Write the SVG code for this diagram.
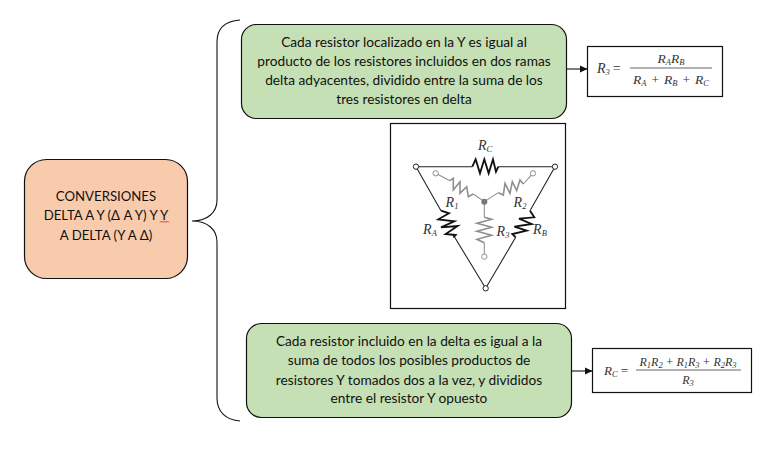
<svg xmlns="http://www.w3.org/2000/svg" width="769" height="457" viewBox="0 0 769 457">
<style>
text{font-family:"Lato","Liberation Sans",sans-serif;font-size:13.7px;fill:#111;text-anchor:middle}
.root{font-size:13.2px}
.box{stroke:#111;stroke-width:1.2}
.green{fill:#c5e0b4}
.frame{fill:#fff;stroke:#111;stroke-width:1.2}
.conn{fill:none;stroke:#111;stroke-width:1.1}
.f{font-family:"Liberation Serif",serif;font-style:italic;font-size:14px;fill:#333}
.s{font-family:"Liberation Serif",serif;font-style:italic;font-size:8.5px;fill:#333;text-anchor:start}
.n{font-family:"Liberation Serif",serif;font-style:normal;fill:#333}
.d{fill:none;stroke:#222;stroke-width:3.2}
.dh{fill:none;stroke:#111;stroke-width:5.5;stroke-linejoin:miter}
.y{fill:none;stroke:#8f8f8f;stroke-width:3.2}
.yh{fill:none;stroke:#8f8f8f;stroke-width:4.8}
.t{fill:#fff;stroke:#222;stroke-width:3}
.ty{fill:#fff;stroke:#8f8f8f;stroke-width:3}
.bar{stroke:#666;stroke-width:1}
</style>
<defs><marker id="ah" markerWidth="8" markerHeight="8" refX="7" refY="4" orient="auto" markerUnits="userSpaceOnUse"><path d="M0,0.5 L7.5,4 L0,7.5 Z" fill="#111"/></marker></defs>
<g id="connectors">
<path class="conn" d="M240,20 C226,21 217,28 217,42 L217,200 C217,212 208,221 192,221 C208,221 217,230 217,242 L217,398 C217,412 226,420 240,421"/>
<path class="conn" d="M566,69 L587,69" marker-end="url(#ah)"/>
<path class="conn" d="M571,371 L592,371" marker-end="url(#ah)"/>
</g>
<g id="node-root">
<rect class="box" x="24.500" y="159.500" width="163" height="119" rx="22" fill="#f8cbad"/>
<text class="root" x="106" y="200.500">CONVERSIONES</text>
<text class="root" x="106" y="220">DELTA A Y (Δ A Y) Y Y</text>
<text class="root" x="106" y="240">A DELTA (Y A Δ)</text>
<path d="M160,222.500 l1.500,-1.500 l1.500,1.500 l1.500,-1.500 l1.500,1.500 l1.500,-1.500 l1.500,1.500" fill="none" stroke="#e02020" stroke-width="0.900"/>
</g>
<g id="node-top-text">
<rect class="box green" x="241.500" y="24.500" width="325" height="94" rx="15"/>
<text x="404" y="47">Cada resistor localizado en la Y es igual al</text>
<text x="404" y="66">producto de los resistores incluidos en dos ramas</text>
<text x="404" y="85">delta adyacentes, dividido entre la suma de los</text>
<text x="404" y="104">tres resistores en delta</text>
</g>
<g id="node-top-formula">
<rect class="frame" x="587.500" y="46.500" width="135" height="50"/>
<text class="f" x="597" y="73" style="text-anchor:start;font-size:14px">R<tspan class="s" dy="2">3</tspan><tspan class="n" dy="-2" dx="3">=</tspan></text>
<text class="f" x="671" y="63" style="font-size:13.500px">R<tspan class="s" dy="2">A</tspan><tspan dy="-2">R</tspan><tspan class="s" dy="2">B</tspan></text>
<line class="bar" x1="630" y1="68" x2="712" y2="68"/>
<text class="f" x="671" y="84" style="font-size:13.500px">R<tspan class="s" dy="2">A</tspan><tspan class="n" dy="-2" dx="5">+</tspan><tspan dx="5">R</tspan><tspan class="s" dy="2">B</tspan><tspan class="n" dy="-2" dx="5">+</tspan><tspan dx="5">R</tspan><tspan class="s" dy="2">C</tspan></text>
</g>
<g id="node-circuit">
<rect class="frame" x="390.500" y="123.500" width="175" height="185"/>
<g transform="translate(385 120) scale(0.3333)">
<path class="d" d="M93,140 H262 M340,140 H510 M93,140 L168,272 M205,345 L302,505 M510,140 L435,272 M392,352 L302,505"/>
<path class="dh" d="M262,140 L272,118 L285,160 L298,118 L311,160 L324,118 L333,155 L340,140"/>
<path class="dh" d="M168,272 L192,280 L160,298 L208,304 L168,322 L218,318 L182,342 L212,345 L205,352"/>
<path class="dh" d="M435,272 L448,292 L402,296 L440,312 L388,320 L425,332 L382,342 L392,352"/>
<path class="y" d="M152,160 L195,182 M265,222 L298,245 L340,218 M415,192 L444,160 M298,245 V292 M298,368 V410"/>
<path class="yh" d="M195,182 L205,175 L205,210 L225,185 L225,220 L245,200 L250,230 L265,222"/>
<path class="yh" d="M340,218 L355,225 L360,190 L375,220 L382,185 L395,212 L405,180 L415,192"/>
<path class="yh" d="M298,292 L320,298 L276,310 L320,322 L276,334 L320,346 L276,358 L298,368"/>
<circle class="t" cx="93" cy="140" r="8"/>
<circle class="t" cx="510" cy="140" r="8"/>
<circle class="t" cx="302" cy="505" r="8"/>
<circle class="ty" cx="152" cy="160" r="8"/>
<circle class="ty" cx="444" cy="160" r="8"/>
<circle class="ty" cx="298" cy="410" r="8"/>
<circle cx="298" cy="245" r="9" fill="#777"/>
</g>
<text class="f" x="485" y="150">R<tspan class="s" dy="2">C</tspan></text>
<text class="f" x="452" y="207">R<tspan class="s" dy="2">1</tspan></text>
<text class="f" x="520" y="207">R<tspan class="s" dy="2">2</tspan></text>
<text class="f" x="503" y="236">R<tspan class="s" dy="2">3</tspan></text>
<text class="f" x="430" y="234">R<tspan class="s" dy="2">A</tspan></text>
<text class="f" x="540" y="234">R<tspan class="s" dy="2">B</tspan></text>
</g>
<g id="node-bottom-text">
<rect class="box green" x="246.500" y="323.500" width="325" height="94" rx="15"/>
<text x="409" y="346">Cada resistor incluido en la delta es igual a la</text>
<text x="409" y="365">suma de todos los posibles productos de</text>
<text x="409" y="385">resistores Y tomados dos a la vez, y divididos</text>
<text x="409" y="403">entre el resistor Y opuesto</text>
</g>
<g id="node-bottom-formula">
<rect class="frame" x="592.500" y="348.500" width="159" height="44"/>
<text class="f" x="604" y="375" style="text-anchor:start;font-size:13px">R<tspan class="s" dy="2">C</tspan><tspan class="n" dy="-2" dx="3">=</tspan></text>
<text class="f" x="688" y="366" style="font-size:12px">R<tspan class="s" dy="2">1</tspan><tspan dy="-2">R</tspan><tspan class="s" dy="2">2</tspan><tspan class="n" dy="-2" dx="3.500">+</tspan><tspan dx="3.500">R</tspan><tspan class="s" dy="2">1</tspan><tspan dy="-2">R</tspan><tspan class="s" dy="2">3</tspan><tspan class="n" dy="-2" dx="3.500">+</tspan><tspan dx="3.500">R</tspan><tspan class="s" dy="2">2</tspan><tspan dy="-2">R</tspan><tspan class="s" dy="2">3</tspan></text>
<line class="bar" x1="636" y1="370" x2="741" y2="370"/>
<text class="f" x="688" y="384" style="font-size:12px">R<tspan class="s" dy="2">3</tspan></text>
</g>
</svg>
